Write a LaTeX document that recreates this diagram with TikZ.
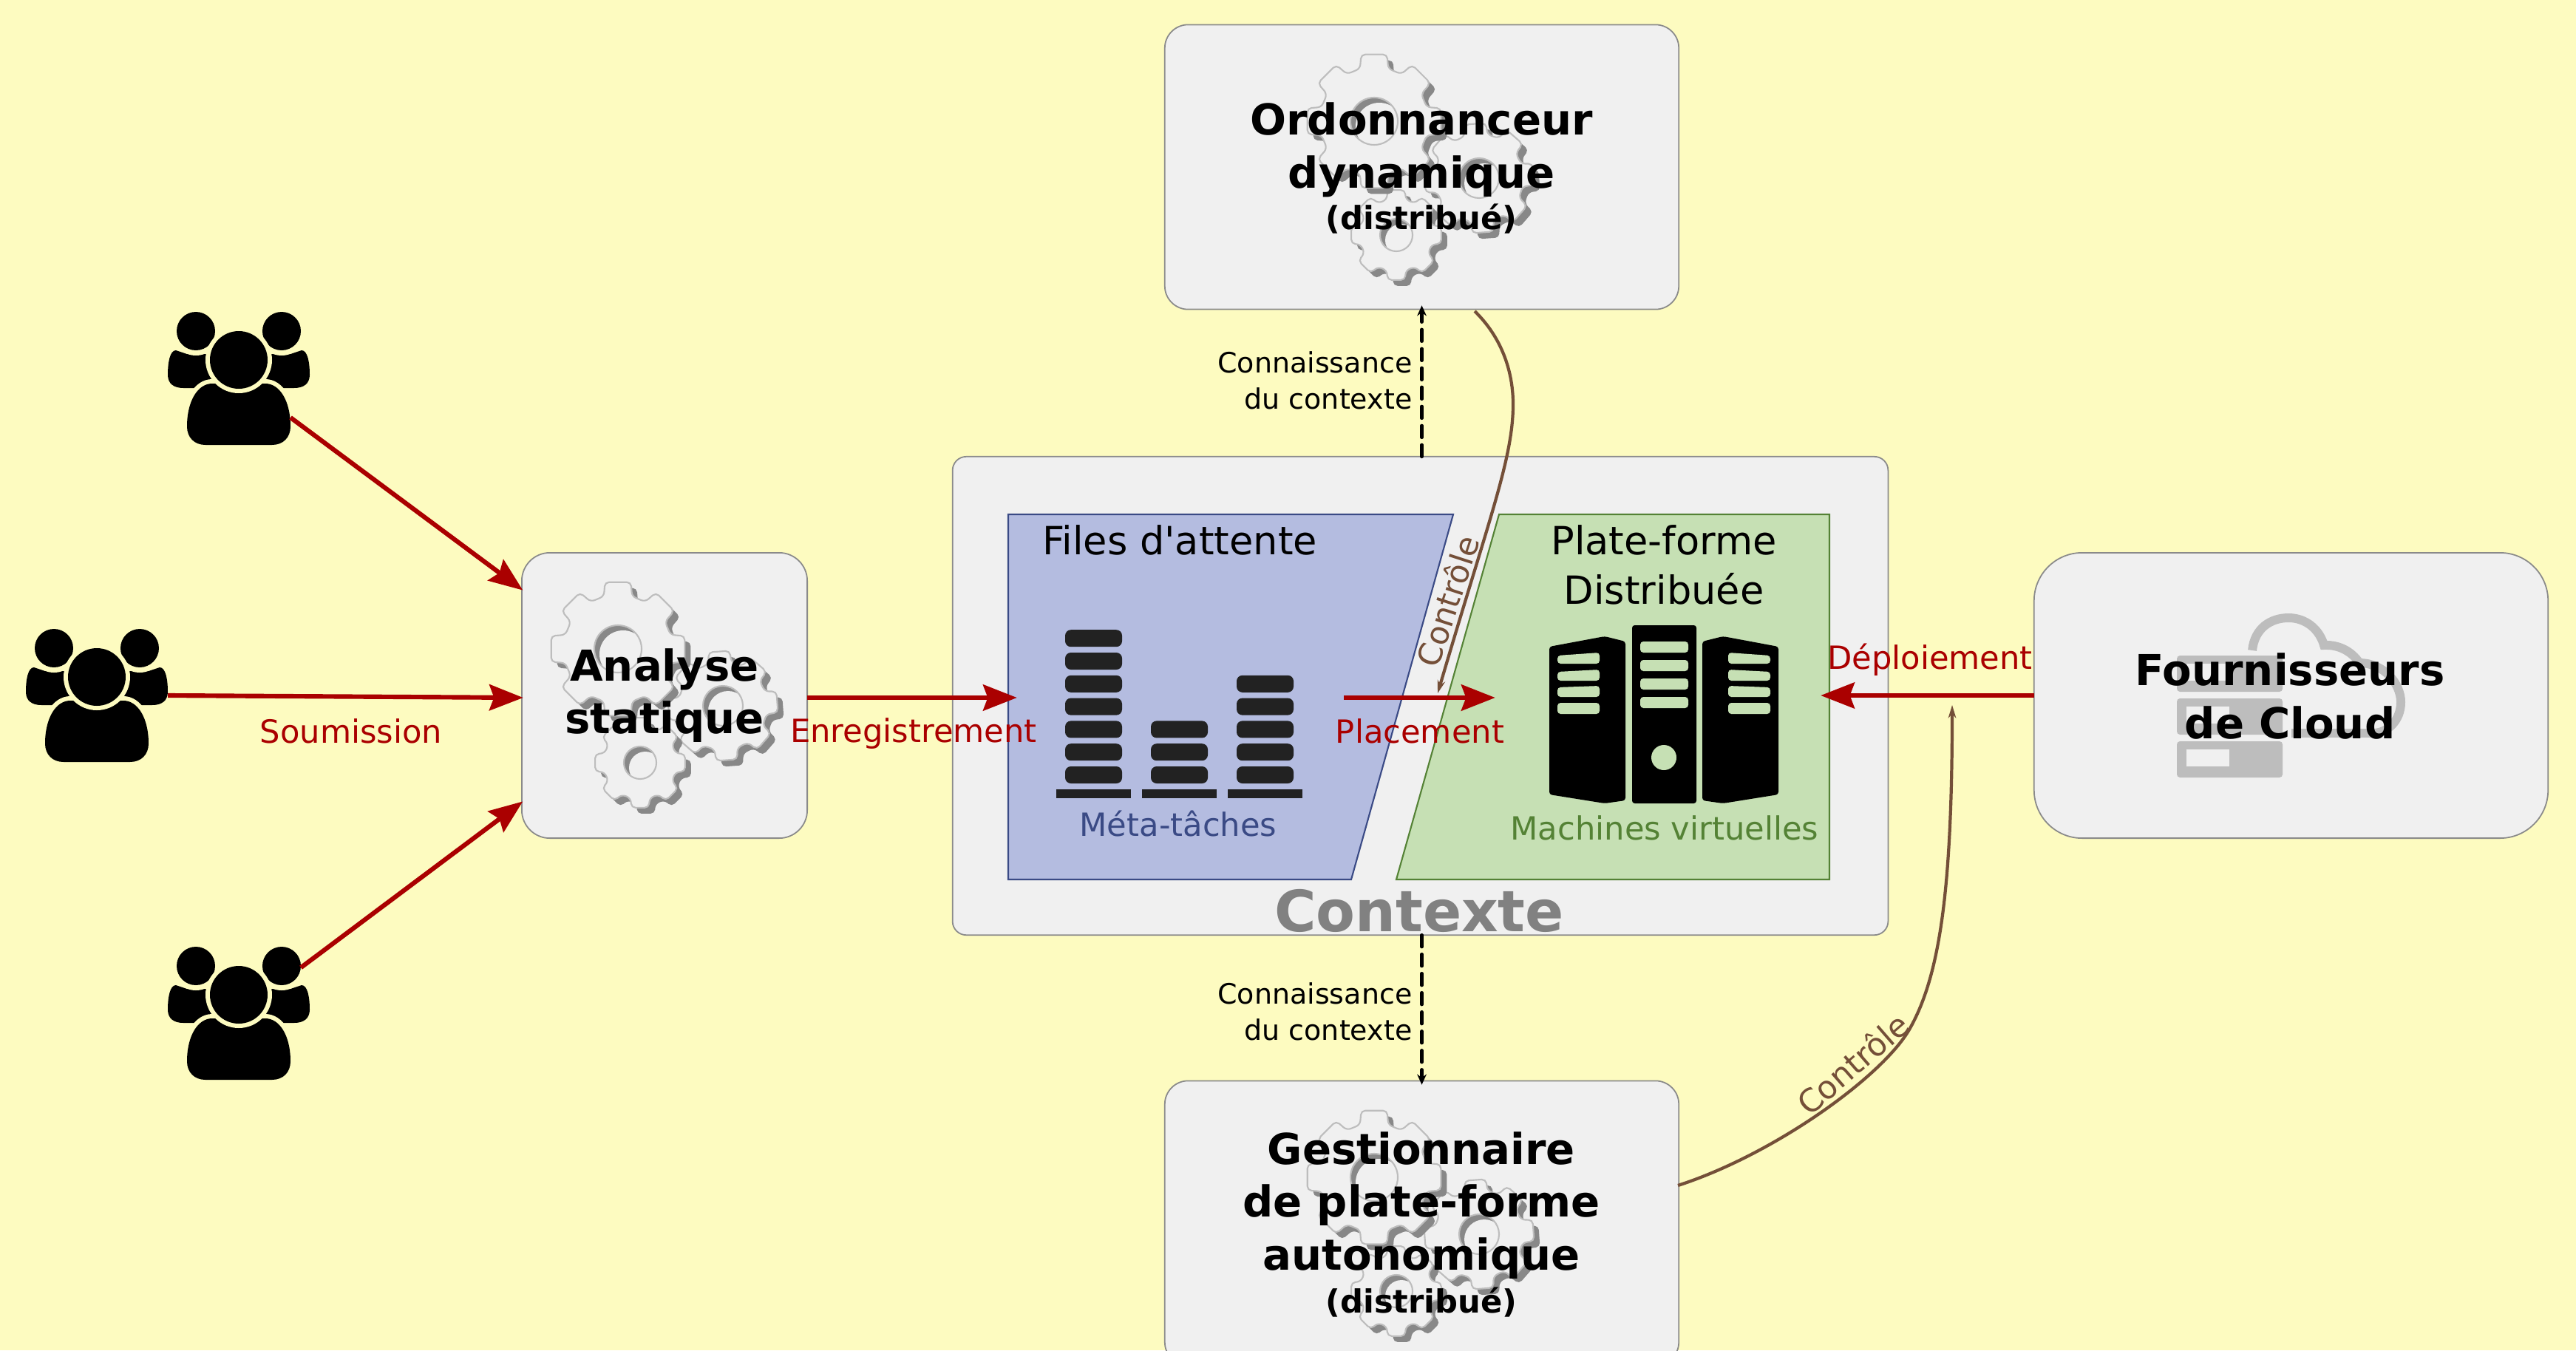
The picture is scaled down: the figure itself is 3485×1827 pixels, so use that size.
\documentclass[tikz,border=0pt]{standalone}
\usepackage{fontspec}
\setmainfont{DejaVu Sans}
\usetikzlibrary{arrows.meta}

\definecolor{fondjaune}{HTML}{FDFBC0}
\definecolor{fondboite}{HTML}{F0F0F0}
\definecolor{bordboite}{HTML}{8A8A8A}
\definecolor{rouge}{HTML}{AA0000}
\definecolor{brun}{HTML}{744F38}
\definecolor{bleufond}{HTML}{B4BCE0}
\definecolor{bleutrait}{HTML}{3A4A85}
\definecolor{vertfond}{HTML}{C6E0B4}
\definecolor{verttrait}{HTML}{548235}
\definecolor{ombre}{HTML}{888888}
\definecolor{clair}{HTML}{BDBDBD}
\definecolor{pile}{HTML}{222222}

\tikzset{
  boite/.style={draw=bordboite,fill=fondboite,line width=0.5pt,inner sep=0pt,outer sep=0pt},
  titre/.style={font=\fontsize{16.4}{20.4}\selectfont\bfseries,align=center,inner sep=0pt},
  sousTitre/.style={font=\fontsize{12.3}{14}\selectfont\bfseries,inner sep=0pt},
  texte/.style={font=\fontsize{14.95}{19}\selectfont,align=center,inner sep=0pt},
  etiq/.style={font=\fontsize{12.3}{15}\selectfont,inner sep=0pt},
  savoir/.style={font=\fontsize{10.8}{14}\selectfont,align=right,inner sep=0pt},
  zone/.style={inner sep=0pt,outer sep=0pt},
  flot/.style={draw=rouge,line width=1.75pt,shorten >=-0.5pt,-{Stealth[length=13pt,width=10pt,inset=1.8pt]}},
  veille/.style={draw=black,line width=1.3pt,dash pattern=on 4.5pt off 2.9pt,line cap=round,shorten >=-1.5pt,-{Stealth[length=4pt,width=3.6pt]}},
  ordre/.style={draw=brun,line width=1.2pt,-{Stealth[length=5pt,width=3pt]}}
}

%Roue dentee : centre x, centre y, rayon, rayon du trou, rotation
\newcommand{\roue}[5]{
  \begin{scope}[shift={(#1,#2)}]
    \foreach \couche in {0,1}{
      \pgfmathsetmacro{\dec}{8*(1-\couche)}
      \ifnum\couche=0 \tikzset{rouecour/.style={fill=ombre}}\else \tikzset{rouecour/.style={fill=fondboite,draw=clair,line width=0.6pt}}\fi
      \path[rouecour,rounded corners=1.6pt,shift={(\dec,\dec)}] ({#5+15}:{#3*0.8})
        \foreach \k in {1,...,7}{
          -- ({#5+45*\k-15}:{#3*0.8}) -- ({#5+45*\k-11}:{#3}) -- ({#5+45*\k+11}:{#3}) -- ({#5+45*\k+15}:{#3*0.8})
        }
        -- ({#5-15}:{#3*0.8}) -- ({#5-11}:{#3}) -- ({#5+11}:{#3}) -- cycle;
    }
    \fill[ombre] (0,0) circle[radius=#4];
    \begin{scope}
      \clip (0,0) circle[radius=#4];
      \fill[fondboite] (7,7) circle[radius=#4];
    \end{scope}
    \draw[clair,line width=0.6pt] (0,0) circle[radius=#4];
  \end{scope}
}
\newcommand{\rouages}[2]{
  \roue{#1+142}{#2+77}{75}{27}{-4}
  \roue{#1+30}{#2+154}{62}{22}{0}
  \roue{#1}{#2}{92}{32}{0}
}

%Groupe d'utilisateurs, centre sur la tete du milieu
\newcommand{\groupe}[2]{
  \begin{scope}[shift={(#1,#2)}]
    \foreach \sens in {1,-1}{
      \begin{scope}[xscale=\sens]
        \fill (-96,20) .. controls (-96,3) and (-93,-13) .. (-85,-13) -- (-70,-8) -- (-40,-8) -- (-25,38) -- (-75,38) .. controls (-88,38) and (-96,32) .. (-96,20) -- cycle;
        \fill[fondjaune] (-58,-39) circle[radius=33];
        \fill (-58,-39) circle[radius=26];
      \end{scope}
    }
    \path[fill=fondjaune,draw=fondjaune,line width=3.4pt] (-70,90) .. controls (-70,55) and (-55,32) .. (-36,32) -- (36,32) .. controls (55,32) and (70,55) .. (70,90) -- (70,115) -- (-70,115) -- cycle;
    \fill (-70,90) .. controls (-70,55) and (-55,32) .. (-36,32) -- (36,32) .. controls (55,32) and (70,55) .. (70,90) .. controls (70,105) and (60,115) .. (45,115) -- (-45,115) .. controls (-60,115) and (-70,105) .. (-70,90) -- cycle;
    \fill[fondjaune] (0,0) circle[radius=45];
    \fill (0,0) circle[radius=39];
  \end{scope}
}

\begin{document}
\begin{tikzpicture}[x=0.01cm,y=-0.01cm]
  \useasboundingbox (0,0) rectangle (3485,1827);
  \clip (0,0) rectangle (3485,1827);
  \fill[fondjaune] (0,0) rectangle (3485,1827);

  %Boites
  \node[boite,rounded corners=10.8pt,minimum width=3.86cm,minimum height=3.86cm] (analyse) at (899,941) {};
  \node[boite,rounded corners=5.3pt,minimum width=12.65cm,minimum height=6.47cm] (contexte) at (1921.5,941.5) {};
  \node[boite,rounded corners=9pt,minimum width=6.95cm,minimum height=3.85cm] (ordo) at (1923.5,226) {};
  \node[boite,rounded corners=9pt,minimum width=6.95cm,minimum height=3.85cm] (gest) at (1923.5,1655) {};
  \node[boite,rounded corners=18.5pt,minimum width=6.95cm,minimum height=3.86cm] (cloud) at (3099.5,941) {};

  %Rouages
  \rouages{836}{878}
  \rouages{1859}{164}
  \rouages{1859}{1593}

  %Nuage et serveurs
  \draw[clair,line width=3.4pt] (3047,880) .. controls (3050,850) and (3072,836) .. (3096,836) .. controls (3120,836) and (3138,852) .. (3144,873) .. controls (3165,872) and (3182,882) .. (3192,897) .. controls (3225,897) and (3248,925) .. (3248,950) .. controls (3248,975) and (3230,992) .. (3210,992) -- (3100,992);
  \foreach \y in {887,945,1003}{
    \fill[clair,rounded corners=1.2pt] (2945,\y) rectangle +(143,49);
    \fill[fondboite] (2958,\y+11) rectangle +(58,23);
  }

  %Files d'attente
  \fill[bleufond,draw=bleutrait,line width=0.6pt] (1364,696) -- (1966,696) -- (1828,1190) -- (1364,1190) -- cycle;
  \foreach \x/\n in {1441/6,1557/2,1673/4}{
    \foreach \i in {0,...,\n}{
      \fill[pile,rounded corners=2.2pt] (\x,{1037-30.8*\i}) rectangle +(77,23);
    }
  }
  \foreach \x in {1429,1545,1661}{
    \fill[pile] (\x,1068) rectangle +(101,12);
  }

  %Plate-forme
  \fill[vertfond,draw=verttrait,line width=0.6pt] (2028,696) -- (2475,696) -- (2475,1190) -- (1889,1190) -- cycle;
  \begin{scope}[shift={(2251,0)}]
    \fill[rounded corners=1pt] (-43,846) -- (44,846) -- (44,1087) -- (-43,1087) -- cycle;
    \foreach \y in {868,893,918,943}{
      \fill[vertfond,rounded corners=1.2pt] (-32,\y) rectangle +(65,15);
    }
    \fill[vertfond] (0,1025) circle[radius=17];
    \foreach \sens in {1,-1}{
      \begin{scope}[xscale=\sens]
        \fill[rounded corners=1pt] (52,868) -- (80,861) -- (155,875) -- (155,1075) -- (80,1087) -- (52,1083) -- cycle;
        \foreach \y/\s in {883/4,906/3,928/2,951/0}{
          \fill[vertfond,rounded corners=1.2pt] (87,\y) -- (144,\y+\s) -- (144,\y+15) -- (87,\y+15) -- cycle;
        }
      \end{scope}
    }
  \end{scope}

  %Utilisateurs
  \groupe{323}{487}
  \groupe{131}{916}
  \groupe{323}{1346}
  \node[zone,minimum width=1.4cm,minimum height=1.6cm] (usersA) at (323,513) {};
  \node[zone,minimum width=1.92cm,minimum height=1.6cm] (usersB) at (131,941) {};
  \node[zone,minimum width=1.68cm,minimum height=1.6cm] (usersC) at (323,1372) {};

  %Points de passage
  \coordinate (analyseO) at (706,944);
  \coordinate (analyseE) at (1092,944);
  \coordinate (filesO) at (1374,944);
  \coordinate (placeA) at (1818,944);
  \coordinate (placeB) at (2021,944);
  \coordinate (vmE) at (2465,941);
  \coordinate (ordoS) at (1995,421);
  \coordinate (ordoM) at (2047,547);
  \coordinate (ordoF) at (1945,938);
  \coordinate (gestE) at (2270,1604);
  \coordinate (gestM) at (2583,1393);
  \coordinate (gestF) at (2641,954);

  %Fleches
  \draw[flot] (usersA) -- (analyse);
  \draw[flot] (usersB.east) -- (analyseO);
  \draw[flot] (usersC) -- (analyse);
  \draw[flot] (analyseE) -- (filesO);
  \draw[flot,line width=1.9pt] (placeA) -- (placeB);
  \draw[flot,line width=1.6pt] (cloud.west) -- (vmE);
  \draw[veille] (contexte.north -| ordo.south) -- (ordo.south);
  \draw[veille] (contexte.south -| gest.north) -- (gest.north);
  \draw[ordre] (ordoS) .. controls (2030,455) and (2047,500) .. (ordoM) .. controls (2047,620) and (2015,700) .. (ordoF);
  \draw[ordre] (gestE) .. controls (2400,1562) and (2546,1457) .. (gestM) .. controls (2625,1320) and (2641,1200) .. (gestF);

  %Textes
  \node[titre] (tAnalyse) at (899,941) {Analyse\\statique};
  \node[titre] (tOrdo) at (1923,203) {Ordonnanceur\\dynamique};
  \node[sousTitre] (tOrdoD) at (1923,296) {(distribué)};
  \node[titre] (tGest) at (1923,1631) {Gestionnaire\\de plate-forme\\autonomique};
  \node[sousTitre] (tGestD) at (1923,1762) {(distribué)};
  \node[titre] (tCloud) at (3098,942) {Fournisseurs\\de Cloud};
  \node[font=\fontsize{21.9}{26}\selectfont\bfseries,text=ombre!95!black,inner sep=0pt] (tContexte) at (1920,1232) {Contexte};
  \node[texte] (tFiles) at (1596,731) {Files d\textquotesingle attente};
  \node[texte] (tPlate) at (2251,764) {Plate-forme\\Distribuée};
  \node[etiq,text=bleutrait] (tMeta) at (1594,1114) {Méta-tâches};
  \node[etiq,text=verttrait] (tVm) at (2252,1120) {Machines virtuelles};
  \node[etiq,text=rouge] (tSoum) at (475,989) {Soumission};
  \node[etiq,text=rouge] (tEnreg) at (1236,993) {Enregistrement};
  \node[etiq,text=rouge] (tPlace) at (1921,989) {Placement};
  \node[etiq,text=rouge] (tDeploi) at (2611,893) {Déploiement};
  \node[savoir,anchor=east] (tSavoirA) at (1911,515) {Connaissance\\du contexte};
  \node[savoir,anchor=east] (tSavoirB) at (1911,1369) {Connaissance\\du contexte};
  \node[etiq,text=brun,rotate=72] (tCtrlA) at (1958,813) {Contrôle};
  \node[etiq,text=brun,rotate=41] (tCtrlB) at (2506,1439) {Contrôle};
\end{tikzpicture}
\end{document}
